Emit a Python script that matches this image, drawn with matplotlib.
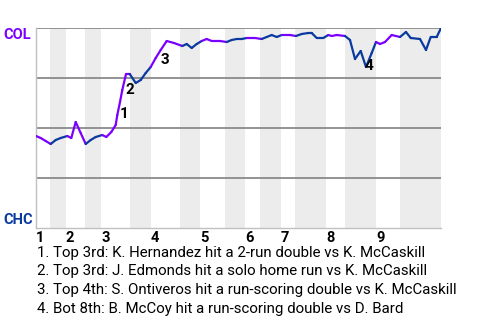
import matplotlib
matplotlib.use("Agg")
import matplotlib.pyplot as plt

plt.rcParams['font.family'] = ['Roboto', 'DejaVu Sans']

# game position (plays) and COL win probability
play_x = [0.0, 0.94, 1.94, 2.94, 3.94, 4.94, 6.26, 7.06, 7.94, 8.94,
          9.94, 10.94, 11.94, 13.26, 14.06, 15.06, 15.94, 16.26, 16.8, 17.26,
          18.0, 18.74, 19.94, 20.94, 21.94, 22.94, 23.94, 24.94, 26.14, 27.6,
          29.26, 30.14, 31.14, 32.14, 33.14, 34.14, 35.14, 36.8, 38.14, 39.14,
          40.14, 41.14, 42.14, 43.8, 45.14, 46.14, 47.14, 48.14, 49.14, 50.8,
          52.0, 53.14, 54.46, 55.14, 56.14, 57.46, 58.46, 59.14, 60.14, 61.8,
          62.8, 63.8, 64.94, 66.0, 67.14, 68.0, 68.8, 69.8, 71.14, 72.8,
          74.0, 74.94, 76.8, 78.0, 78.94, 80.14, 81.0]
col_wp = [0.46, 0.45, 0.435, 0.42, 0.44, 0.45, 0.46, 0.45, 0.53, 0.475,
          0.42, 0.44, 0.455, 0.465, 0.455, 0.48, 0.515, 0.565, 0.63, 0.69,
          0.77, 0.77, 0.725, 0.74, 0.775, 0.805, 0.85, 0.89, 0.935, 0.925,
          0.91, 0.92, 0.9, 0.92, 0.935, 0.945, 0.935, 0.935, 0.93, 0.94,
          0.945, 0.945, 0.95, 0.95, 0.945, 0.955, 0.965, 0.955, 0.965, 0.965,
          0.96, 0.97, 0.975, 0.975, 0.95, 0.95, 0.965, 0.96, 0.965, 0.96,
          0.94, 0.845, 0.885, 0.805, 0.875, 0.93, 0.92, 0.93, 0.965, 0.955,
          0.98, 0.95, 0.945, 0.89, 0.955, 0.955, 1.0]

# start of each top half (inning labels) and each bottom half
top_start = [0, 6, 13, 23, 32.8, 41.8, 49, 58, 68]
bot_start = [2.8, 9.8, 18.8, 28.8, 37.8, 44.8, 51.8, 61.8, 72.8]
game_end = 81
inning_labels = ['1', '2', '3', '4', '5', '6', '7', '8', '9']

# key plays
key_x = [17.6, 18.75, 25.75, 66.6]
key_y = [0.57, 0.69, 0.84, 0.81]
key_labels = ['1', '2', '3', '4']
key_text = [
    "1. Top 3rd: K. Hernandez hit a 2-run double vs K. McCaskill",
    "2. Top 3rd: J. Edmonds hit a solo home run vs K. McCaskill",
    "3. Top 4th: S. Ontiveros hit a run-scoring double vs K. McCaskill",
    "4. Bot 8th: B. McCoy hit a run-scoring double vs D. Bard",
]

COL_COLOR = '#7b00ff'
CHC_COLOR = '#0a3aa0'

fig = plt.figure(figsize=(4.8, 3.2), dpi=100)
ax = fig.add_axes([36 / 480, 92 / 320, 405 / 480, 200 / 320])

# shade bottom halves
bot_end = top_start[1:] + [game_end]
for s, e in zip(bot_start, bot_end):
    ax.axvspan(s, e, color='#ececec', lw=0, zorder=0)

for yv in [0.25, 0.5, 0.75, 1.0]:
    ax.axhline(yv, color='#8a8a8a', lw=1.3, zorder=1)

# line coloured by who is batting
def batting_top(xm):
    last_top = max(t for t in top_start if t <= xm)
    last_bot = max([b for b in bot_start if b <= xm] + [-1])
    return last_top > last_bot

for i in range(len(play_x) - 1):
    xm = (play_x[i] + play_x[i + 1]) / 2
    c = COL_COLOR if batting_top(xm) else CHC_COLOR
    ax.plot(play_x[i:i + 2], col_wp[i:i + 2], color=c, lw=1.6,
            solid_capstyle='round', zorder=3)

for x, y, t in zip(key_x, key_y, key_labels):
    ax.text(x, y, t, ha='center', va='center', fontsize=11,
            fontweight='bold', color='black', zorder=4)

ax.set_xlim(0, game_end)
ax.set_ylim(0, 1)
ax.set_yticks([])
ax.set_xticks(top_start)
ax.set_xticklabels(inning_labels, fontsize=10.5, fontweight='bold')
for lab in ax.get_xticklabels():
    lab.set_horizontalalignment('left')
ax.tick_params(axis='x', length=0, pad=2)
for sp in ['top', 'right']:
    ax.spines[sp].set_visible(False)
for sp in ['left', 'bottom']:
    ax.spines[sp].set_color('#c0c0c0')
    ax.spines[sp].set_linewidth(1)

fig.text(3 / 480, 1 - 35 / 320, 'COL', color=COL_COLOR, fontsize=10.5,
         fontweight='bold', va='center', ha='left')
fig.text(3 / 480, 1 - 220 / 320, 'CHC', color=CHC_COLOR, fontsize=10.5,
         fontweight='bold', va='center', ha='left')

for i, t in enumerate(key_text):
    fig.text(37 / 480, 1 - (253 + 18.5 * i) / 320, t, fontsize=10.8,
             va='center', ha='left', color='black')

fig.savefig('out.png', dpi=100)
